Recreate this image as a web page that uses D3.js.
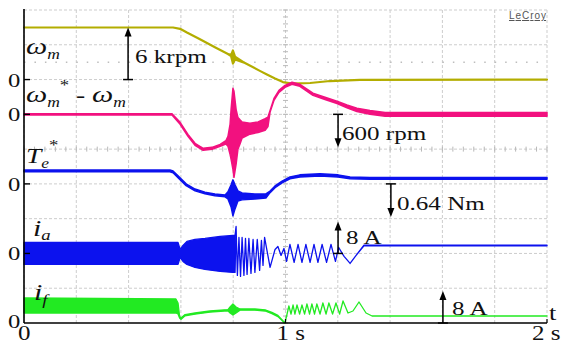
<!DOCTYPE html>
<html>
<head>
<meta charset="utf-8">
<script src="https://cdn.jsdelivr.net/npm/d3@7/dist/d3.min.js"></script>
<style>
  body { margin: 0; background: #fff; }
  svg { display: block; }
  text { font-family: "Liberation Serif", "Times New Roman", serif; fill: #111; }
</style>
</head>
<body>
<svg id="scope" width="564" height="345"></svg>
<script>
// time axis (s)
const timeLabels = ["0", "1 s", "2 s"];

// speed w_m (krpm): upper / lower edge of the trace
const wmT  = [0, 0.570, 0.597, 0.623, 0.673, 0.730, 0.780, 0.792, 0.799, 0.807, 0.845, 0.902, 0.929, 0.960, 0.990, 1.025, 1.094, 1.170, 1.285, 2.0];
const wmHi = [6.0, 6.0, 5.85, 5.42, 4.64, 3.72, 2.95, 2.85, 3.35, 2.65, 1.90, 1.00, 0.58, 0.12, -0.29, -0.46, -0.40, -0.17, -0.03, 0];
const wmLo = [6.0, 6.0, 5.85, 5.42, 4.64, 3.72, 2.95, 2.70, 1.85, 2.31, 1.90, 1.00, 0.58, 0.12, -0.29, -0.46, -0.40, -0.17, -0.03, 0];

// speed error w_m* - w_m (rpm)
const errT  = [0, 0.566, 0.597, 0.627, 0.654, 0.685, 0.719, 0.750, 0.772, 0.780, 0.788, 0.792, 0.799, 0.803, 0.811, 0.818, 0.826, 0.834, 0.864, 0.895, 0.922, 0.933, 0.941, 0.956, 0.975, 0.998, 1.025, 1.055, 1.105, 1.151, 1.197, 1.235, 1.273, 1.323, 1.381, 2.0];
const errHi = [12, 12, -146, -364, -527, -618, -600, -546, -480, -400, -182, 91, 473, 418, 91, -55, -100, -140, -160, -140, -80, -50, 70, 290, 436, 527, 582, 545, 385, 312, 240, 170, 110, 70, 35, 35];
const errLo = [-12, -12, -182, -400, -563, -654, -636, -582, -540, -582, -727, -818, -1000, -1145, -909, -636, -540, -430, -360, -330, -290, -220, 40, 256, 400, 491, 546, 509, 345, 270, 196, 120, 50, 0, -35, -35];

// torque reference Te* (Nm)
const teT  = [0, 0.558, 0.570, 0.589, 0.620, 0.654, 0.692, 0.730, 0.769, 0.780, 0.792, 0.799, 0.807, 0.818, 0.834, 0.883, 0.925, 0.941, 0.960, 0.987, 1.017, 1.055, 1.132, 1.201, 1.247, 1.323, 2.0];
const teHi = [0.27, 0.27, 0.25, 0.155, 0, -0.1, -0.16, -0.195, -0.215, -0.155, -0.019, 0.078, -0.019, -0.136, -0.175, -0.194, -0.194, -0.14, -0.04, 0.055, 0.135, 0.175, 0.195, 0.175, 0.135, 0.125, 0.125];
const teLo = [0.235, 0.235, 0.215, 0.12, -0.035, -0.135, -0.19, -0.23, -0.25, -0.291, -0.446, -0.621, -0.485, -0.33, -0.31, -0.291, -0.272, -0.17, -0.075, 0.02, 0.1, 0.135, 0.155, 0.135, 0.1, 0.09, 0.09];

// armature current i_a (A)
const iaT  = [0, 0.589, 0.597, 0.608, 0.623, 0.654, 0.692, 0.750, 0.799, 0.807,
  0.811, 0.816, 0.822, 0.828, 0.834, 0.841, 0.847, 0.853, 0.860, 0.868, 0.876, 0.883, 0.892, 0.901, 0.908, 0.914, 0.920,
  0.941, 0.960, 0.971, 0.983, 0.994, 1.004, 1.017, 1.033, 1.048, 1.063, 1.078, 1.094, 1.109, 1.124, 1.140, 1.157, 1.174, 1.191,
  1.203, 1.224, 1.247, 1.270, 1.300, 2.0];
const iaHi = [2.75, 2.75, 1, 2, 3, 3.5, 3.75, 4.25, 4.5, 4.5,
  6.75, -5.5, 4, -5.75, 4, -5.5, 3.75, -5.25, 3.75, -5, 3.5, -4.75, 3.5, -4.25, 3.25, -3, 4,
  -3.5, 1, 1.75, -0.5, 1.25, -2, 2.25, -2.25, 2.25, -2.25, 2.25, -2.25, 2.25, -2.25, 2.25, -2.25, 2.25, -2,
  1.5, -0.75, -2.5, -0.5, 2.1, 2.1];
const iaLo = [-2.75, -2.75, -1, -2, -2.75, -3.5, -4, -4.5, -4.75, -4.75,
  6.75, -5.5, 4, -5.75, 4, -5.5, 3.75, -5.25, 3.75, -5, 3.5, -4.75, 3.5, -4.25, 3.25, -3, 4,
  -3.5, 1, 1.75, -0.5, 1.25, -2, 2.25, -2.25, 2.25, -2.25, 2.25, -2.25, 2.25, -2.25, 2.25, -2.25, 2.25, -2,
  1.5, -0.75, -2.5, -0.5, 1.9, 1.9];

// field current i_f (A)
const ifT  = [0, 0.581, 0.589, 0.595, 0.600, 0.616, 0.654, 0.711, 0.780, 0.788, 0.799, 0.811, 0.826, 0.883, 0.922, 0.948, 0.971, 0.990, 0.998,
  1.006, 1.013, 1.021, 1.029, 1.036, 1.044, 1.054, 1.063, 1.073, 1.082, 1.092, 1.101, 1.111, 1.120, 1.132, 1.143, 1.155, 1.166, 1.180, 1.193, 1.207,
  1.220, 1.239, 1.258, 1.281, 1.308, 1.331, 2.0];
const ifHi = [6.25, 6, 5, 1.75, 1.25, 2.1, 2.5, 3, 3.35, 4, 4.75, 4, 3.5, 3.5, 3.3, 2.65, 1.9, 0.6, 0,
  2.25, 4.25, 2.25, 4.5, 2.25, 4.5, 2.25, 4.5, 2.25, 4.75, 2.25, 4.75, 2.25, 4.75, 2.25, 5, 2.25, 5, 2.25, 5, 2.25,
  5.5, 2.5, 3, 5.25, 2.5, 1.75, 1.75];
const ifLo = [2.5, 2.5, 2.25, 1.25, 0.9, 1.8, 2.2, 2.7, 3.05, 2.5, 2, 2.5, 3.2, 3.2, 3.0, 2.35, 1.6, 0.4, 0,
  2.25, 4.25, 2.25, 4.5, 2.25, 4.5, 2.25, 4.5, 2.25, 4.75, 2.25, 4.75, 2.25, 4.75, 2.25, 5, 2.25, 5, 2.25, 5, 2.25,
  5.5, 2.5, 3, 5.25, 2.5, 1.75, 1.75];

// scale bars: value shown by each arrow
const barLabels = ["6 krpm", "600 rpm", "0.64 Nm", "8 A", "8 A"];
const barValues = [6, -600, -0.64, 8, 8];
const barTimes  = [0.398, 1.201, 1.403, 1.201, 1.602];

const svg = d3.select("#scope");
const x = d3.scaleLinear().domain([0, 2]).range([24, 547]);
const div = d3.scaleLinear().domain([0, 9]).range([323, 10]);

// one scale per channel: zero position (div) and units per division
function chan(zeroDiv, perDiv) {
    return d3.scaleLinear().domain([0, perDiv]).range([div(zeroDiv), div(zeroDiv + 1)]);
}
const channels = [
    {t: wmT, hi: wmHi, lo: wmLo, y: chan(7, 4.01), color: "#b3ad00", w: 2.2},
    {t: errT, hi: errHi, lo: errLo, y: chan(6, 632), color: "#f2117f", w: 1.5},
    {t: teT, hi: teHi, lo: teLo, y: chan(4, 0.6745), color: "#0c12ee", w: 1.5},
    {t: iaT, hi: iaHi, lo: iaLo, y: chan(2, 8.7), color: "#0c12ee", w: 1.3},
    {t: ifT, hi: ifHi, lo: ifLo, y: chan(0, 8.7), color: "#22ea22", w: 1.3}
];

// grid
const grid = svg.append("g");
grid.selectAll(".vg").data(d3.range(0, 2.01, 0.2)).join("line")
    .attr("x1", d => x(d)).attr("x2", d => x(d))
    .attr("y1", div(9)).attr("y2", div(0))
    .attr("stroke", "#cdcdcd").attr("stroke-dasharray", "3,2");
grid.selectAll(".hg").data(d3.range(1, 10)).join("line")
    .attr("x1", x(0)).attr("x2", x(2))
    .attr("y1", d => div(d)).attr("y2", d => div(d))
    .attr("stroke", "#cdcdcd").attr("stroke-dasharray", "3,2");
// minor ticks on centre lines
grid.selectAll(".mt").data(d3.range(0, 9.01, 0.2)).join("line")
    .attr("x1", x(1) - 2.5).attr("x2", x(1) + 2.5)
    .attr("y1", d => div(d)).attr("y2", d => div(d))
    .attr("stroke", "#b8b8b8");
grid.selectAll(".mh").data(d3.range(0, 2.01, 0.04)).join("line")
    .attr("x1", d => x(d)).attr("x2", d => x(d))
    .attr("y1", div(5) - 2.5).attr("y2", div(5) + 2.5)
    .attr("stroke", "#b8b8b8");
grid.append("line")
    .attr("x1", x(0)).attr("x2", x(2))
    .attr("y1", div(7.5)).attr("y2", div(7.5))
    .attr("stroke", "#bdbdbd").attr("stroke-width", 1.5)
    .attr("stroke-dasharray", "1.5,8.96");

// traces
channels.forEach(c => {
    const rows = c.t.map((t, i) => ({t: t, hi: c.hi[i], lo: c.lo[i]}));
    const area = d3.area()
        .x(d => x(d.t))
        .y0(d => c.y(d.lo))
        .y1(d => c.y(d.hi));
    svg.append("path").datum(rows)
        .attr("d", area)
        .attr("fill", c.color)
        .attr("stroke", c.color)
        .attr("stroke-width", c.w)
        .attr("stroke-linejoin", "round");
});

// axes
svg.append("line").attr("x1", x(0)).attr("x2", x(0)).attr("y1", div(9) - 1).attr("y2", div(0))
    .attr("stroke", "#000").attr("stroke-width", 1.6);
svg.append("line").attr("x1", x(0)).attr("x2", x(2)).attr("y1", div(0)).attr("y2", div(0))
    .attr("stroke", "#000").attr("stroke-width", 1.6);
svg.selectAll(".zt").data(channels.slice(0, 4)).join("line")
    .attr("x1", x(0)).attr("x2", x(0) + 6)
    .attr("y1", d => d.y(0)).attr("y2", d => d.y(0))
    .attr("stroke", "#000").attr("stroke-width", 1.4);
svg.selectAll(".xt").data([1, 2]).join("line")
    .attr("x1", d => x(d)).attr("x2", d => x(d))
    .attr("y1", div(0)).attr("y2", div(0) - 4)
    .attr("stroke", "#000").attr("stroke-width", 1.2);

// stretched serif text helper
function txt(px, py, size, sx) {
    return svg.append("text")
        .attr("transform", `translate(${px},${py}) scale(${sx},1)`)
        .style("font-size", size + "px");
}

// zero labels
channels.forEach((c, i) => {
    txt(8, c.y(0) + (i === 4 ? 5 : 7), 19, 1.3).text("0");
});
// time labels
timeLabels.forEach((s, i) => {
    txt(x(i) + [-6, -9, -15][i], 340, 20, 1.25).text(s);
});
txt(549, 320, 22, 1.2).text("t");

// scale-bar arrows
const arrows = svg.append("g");
barValues.forEach((v, i) => {
    const c = channels[i];
    const ax = x(barTimes[i]);
    const y0 = c.y(0), y1 = c.y(v);
    const dir = y1 < y0 ? 1 : -1;
    arrows.append("line").attr("x1", ax).attr("x2", ax).attr("y1", y0).attr("y2", y1 + dir * 4)
        .attr("stroke", "#000").attr("stroke-width", 1.5);
    arrows.append("line").attr("x1", ax - 5).attr("x2", ax + 5).attr("y1", y0).attr("y2", y0)
        .attr("stroke", "#000").attr("stroke-width", 1.5);
    arrows.append("path")
        .attr("d", `M${ax},${y1} L${ax - 3.5},${y1 + dir * 9} L${ax + 3.5},${y1 + dir * 9} Z`)
        .attr("fill", "#000");
});
txt(135, 63, 19, 1.32).text(barLabels[0]);
txt(342, 140, 19, 1.32).text(barLabels[1]);
txt(397, 210, 19, 1.32).text(barLabels[2]);
txt(346, 244, 19, 1.32).text(barLabels[3]);
txt(452, 315, 19, 1.32).text(barLabels[4]);

// channel names
function name(px, py, parts) {
    const t = svg.append("text").attr("transform", `translate(${px},${py}) scale(1.25,1)`);
    parts.forEach(p => {
        t.append("tspan").text(p[0])
            .style("font-size", p[1] + "px")
            .style("font-style", p[2] ? "italic" : "normal")
            .attr("dy", p[3]);
    });
}
name(26, 54, [["ω", 24, true, 0], ["m", 14, true, 5]]);
name(26, 102, [["ω", 24, true, 0], ["m", 14, true, 5], ["*", 15, false, -17], [" - ", 22, false, 12], ["ω", 24, true, 0], ["m", 14, true, 5]]);
name(26, 163, [["T", 22, true, 0], ["e", 14, true, 5], ["*", 15, false, -18]]);
name(33, 236, [["i", 24, true, 0], ["a", 15, true, 4]]);
name(34, 300, [["i", 24, true, 0], ["f", 15, true, 5]]);

// scope brand
svg.append("text").attr("x", 509).attr("y", 19)
    .style("font-family", "'Liberation Sans', Arial, sans-serif")
    .style("font-size", "10px").style("fill", "#555")
    .style("text-decoration", "underline")
    .attr("textLength", 37)
    .text("LeCroy");
</script>
</body>
</html>
